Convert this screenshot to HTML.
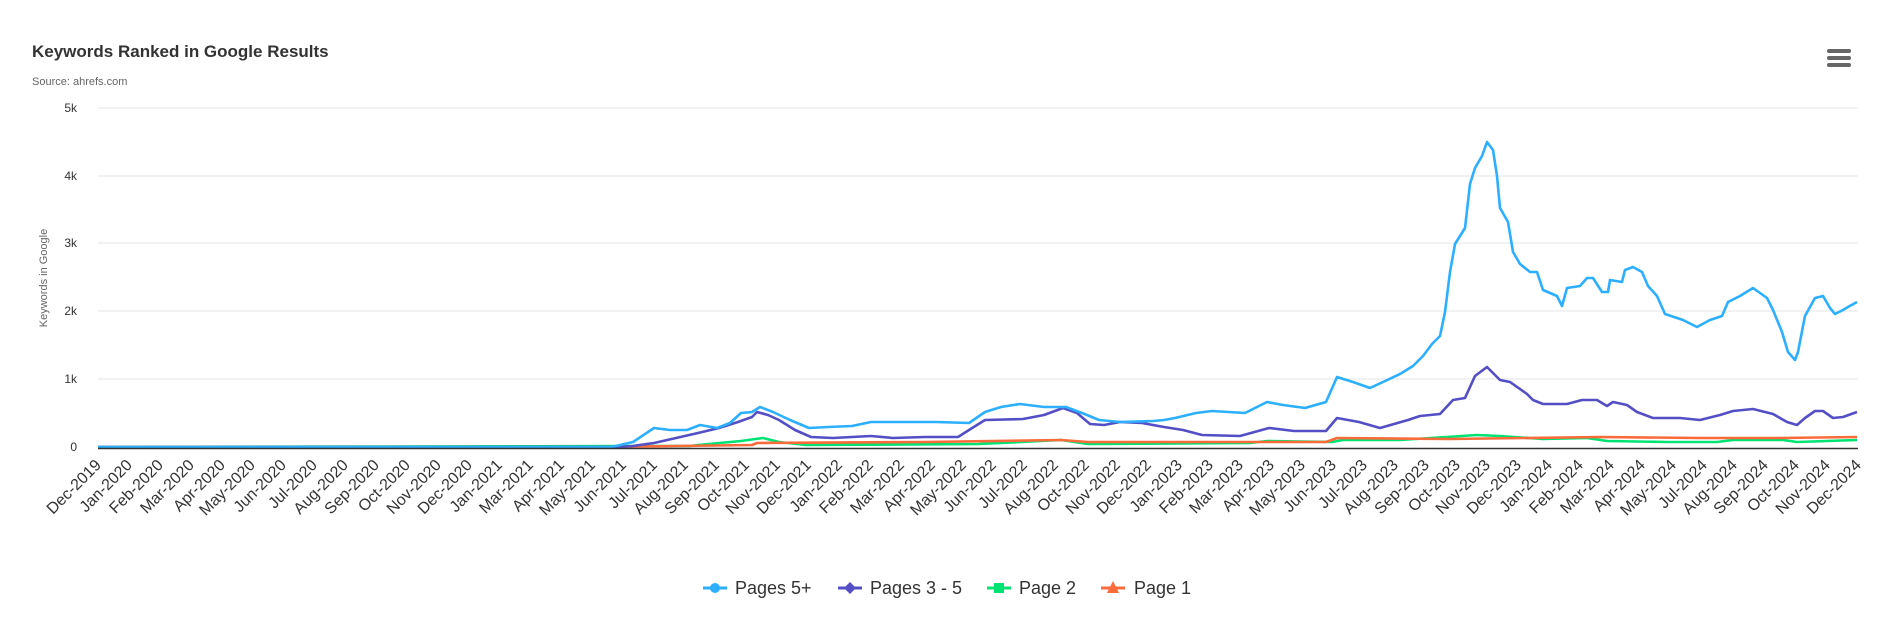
<!DOCTYPE html>
<html><head><meta charset="utf-8"><style>
html,body{margin:0;padding:0;background:#fff;}
svg{display:block;font-family:"Liberation Sans",sans-serif;}
</style></head><body>
<svg width="1890" height="628" viewBox="0 0 1890 628" xmlns="http://www.w3.org/2000/svg">
<rect width="1890" height="628" fill="#fff"/>
<text x="32" y="57" font-size="17" font-weight="bold" fill="#333">Keywords Ranked in Google Results</text>
<text x="32" y="85" font-size="11" fill="#666">Source: ahrefs.com</text>
<g fill="#666"><rect x="1827" y="49" width="24" height="4" rx="2"/><rect x="1827" y="56" width="24" height="4" rx="2"/><rect x="1827" y="63" width="24" height="4" rx="2"/></g>
<g stroke="#e6e6e6" stroke-width="1">
<line x1="98" x2="1858" y1="108" y2="108"/><line x1="98" x2="1858" y1="176" y2="176"/><line x1="98" x2="1858" y1="243" y2="243"/><line x1="98" x2="1858" y1="311" y2="311"/><line x1="98" x2="1858" y1="379" y2="379"/>
</g>
<g font-size="12" fill="#333" text-anchor="end">
<text x="77" y="112">5k</text><text x="77" y="180">4k</text><text x="77" y="247">3k</text><text x="77" y="315">2k</text><text x="77" y="383">1k</text><text x="77" y="451">0</text>
</g>
<text transform="translate(47,278) rotate(-90)" font-size="11" fill="#666" text-anchor="middle">Keywords in Google</text>
<g fill="none" stroke-width="2.6" stroke-linejoin="round">
<polyline stroke="#00e272" points="98,447 690,446 698,445 741,441 763,438 779,442 806,445 979,444 1061,440 1088,444 1250,443 1267,441 1332,442 1343,440 1400,440 1477,435 1500,436 1543,439 1587,438 1607,441 1667,442 1717,442 1733,440 1783,440 1797,442 1827,441 1857,440"/>
<polyline stroke="#fa6b3c" points="98,447 600,447 752,445 757,443 925,442 1061,440 1088,442 1326,442 1337,438 1450,439 1600,437 1700,438 1780,438 1857,437"/>
<polyline stroke="#544fc5" points="98,447 620,447 633,446 654,443 676,438 698,433 719,428 738,422 752,417 757,412 768,415 779,420 795,430 811,437 833,438 871,436 893,438 925,437 958,437 969,430 985,420 1023,419 1044,415 1063,408 1077,413 1090,424 1104,425 1120,422 1142,423 1164,427 1183,430 1202,435 1240,436 1269,428 1294,431 1326,431 1337,418 1359,422 1380,428 1408,420 1420,416 1440,414 1453,400 1465,398 1475,376 1487,367 1500,380 1510,382 1527,394 1533,400 1543,404 1567,404 1582,400 1597,400 1607,406 1613,402 1627,405 1637,412 1653,418 1680,418 1700,420 1720,415 1733,411 1753,409 1773,414 1787,422 1797,425 1805,418 1815,411 1823,411 1833,418 1843,417 1857,412"/>
<polyline stroke="#2caffe" points="98,447 610,447 616,446 633,442 654,428 670,430 687,430 700,425 717,428 730,423 741,413 752,412 760,407 773,412 790,420 809,428 828,427 852,426 871,422 904,422 936,422 969,423 985,412 1001,407 1020,404 1044,407 1066,407 1082,413 1099,420 1120,422 1153,421 1164,420 1175,418 1196,413 1212,411 1245,413 1267,402 1283,405 1305,408 1326,402 1337,377 1353,382 1370,388 1383,382 1400,374 1413,366 1423,356 1432,344 1440,336 1445,312 1450,272 1455,244 1465,228 1470,184 1475,168 1482,156 1487,142 1493,150 1497,176 1500,208 1508,222 1513,252 1520,264 1530,272 1537,272 1543,290 1557,296 1562,306 1567,288 1580,286 1587,278 1593,278 1602,292 1608,292 1610,280 1622,282 1625,270 1633,267 1642,272 1648,286 1657,296 1665,314 1677,318 1683,320 1697,327 1710,320 1722,316 1728,302 1740,296 1753,288 1767,298 1773,310 1782,332 1788,352 1795,360 1798,352 1805,316 1815,298 1823,296 1830,308 1835,314 1843,310 1848,307 1857,302"/>
</g>
<line x1="98" x2="1858" y1="448.5" y2="448.5" stroke="#333" stroke-width="1.5"/>
<g id="xl" font-size="16" fill="#333" text-anchor="end"></g>
<g font-size="18" fill="#333">
<line x1="703" x2="727" y1="588" y2="588" stroke="#2caffe" stroke-width="3"/><circle cx="715" cy="588" r="5" fill="#2caffe"/><text x="735" y="594">Pages 5+</text>
<line x1="838" x2="862" y1="588" y2="588" stroke="#544fc5" stroke-width="3"/><path d="M850 582 L856 588 L850 594 L844 588Z" fill="#544fc5"/><text x="870" y="594">Pages 3 - 5</text>
<line x1="987" x2="1011" y1="588" y2="588" stroke="#00e272" stroke-width="3"/><rect x="994" y="583" width="10" height="10" fill="#00e272"/><text x="1019" y="594">Page 2</text>
<line x1="1101" x2="1125" y1="588" y2="588" stroke="#fa6b3c" stroke-width="3"/><path d="M1113 581 L1119 593 L1107 593Z" fill="#fa6b3c"/><text x="1134" y="594">Page 1</text>
</g>
<g font-size="16" fill="#333" text-anchor="end">
<text transform="translate(102,466) rotate(-45)">Dec-2019</text>
<text transform="translate(133,466) rotate(-45)">Jan-2020</text>
<text transform="translate(164,466) rotate(-45)">Feb-2020</text>
<text transform="translate(195,466) rotate(-45)">Mar-2020</text>
<text transform="translate(226,466) rotate(-45)">Apr-2020</text>
<text transform="translate(256,466) rotate(-45)">May-2020</text>
<text transform="translate(287,466) rotate(-45)">Jun-2020</text>
<text transform="translate(318,466) rotate(-45)">Jul-2020</text>
<text transform="translate(349,466) rotate(-45)">Aug-2020</text>
<text transform="translate(380,466) rotate(-45)">Sep-2020</text>
<text transform="translate(411,466) rotate(-45)">Oct-2020</text>
<text transform="translate(442,466) rotate(-45)">Nov-2020</text>
<text transform="translate(473,466) rotate(-45)">Dec-2020</text>
<text transform="translate(503,466) rotate(-45)">Jan-2021</text>
<text transform="translate(534,466) rotate(-45)">Mar-2021</text>
<text transform="translate(565,466) rotate(-45)">Apr-2021</text>
<text transform="translate(596,466) rotate(-45)">May-2021</text>
<text transform="translate(627,466) rotate(-45)">Jun-2021</text>
<text transform="translate(658,466) rotate(-45)">Jul-2021</text>
<text transform="translate(689,466) rotate(-45)">Aug-2021</text>
<text transform="translate(720,466) rotate(-45)">Sep-2021</text>
<text transform="translate(750,466) rotate(-45)">Oct-2021</text>
<text transform="translate(781,466) rotate(-45)">Nov-2021</text>
<text transform="translate(812,466) rotate(-45)">Dec-2021</text>
<text transform="translate(843,466) rotate(-45)">Jan-2022</text>
<text transform="translate(874,466) rotate(-45)">Feb-2022</text>
<text transform="translate(905,466) rotate(-45)">Mar-2022</text>
<text transform="translate(936,466) rotate(-45)">Apr-2022</text>
<text transform="translate(967,466) rotate(-45)">May-2022</text>
<text transform="translate(997,466) rotate(-45)">Jun-2022</text>
<text transform="translate(1028,466) rotate(-45)">Jul-2022</text>
<text transform="translate(1059,466) rotate(-45)">Aug-2022</text>
<text transform="translate(1090,466) rotate(-45)">Oct-2022</text>
<text transform="translate(1121,466) rotate(-45)">Nov-2022</text>
<text transform="translate(1152,466) rotate(-45)">Dec-2022</text>
<text transform="translate(1183,466) rotate(-45)">Jan-2023</text>
<text transform="translate(1214,466) rotate(-45)">Feb-2023</text>
<text transform="translate(1244,466) rotate(-45)">Mar-2023</text>
<text transform="translate(1275,466) rotate(-45)">Apr-2023</text>
<text transform="translate(1306,466) rotate(-45)">May-2023</text>
<text transform="translate(1337,466) rotate(-45)">Jun-2023</text>
<text transform="translate(1368,466) rotate(-45)">Jul-2023</text>
<text transform="translate(1399,466) rotate(-45)">Aug-2023</text>
<text transform="translate(1430,466) rotate(-45)">Sep-2023</text>
<text transform="translate(1461,466) rotate(-45)">Oct-2023</text>
<text transform="translate(1491,466) rotate(-45)">Nov-2023</text>
<text transform="translate(1522,466) rotate(-45)">Dec-2023</text>
<text transform="translate(1553,466) rotate(-45)">Jan-2024</text>
<text transform="translate(1584,466) rotate(-45)">Feb-2024</text>
<text transform="translate(1615,466) rotate(-45)">Mar-2024</text>
<text transform="translate(1646,466) rotate(-45)">Apr-2024</text>
<text transform="translate(1677,466) rotate(-45)">May-2024</text>
<text transform="translate(1708,466) rotate(-45)">Jul-2024</text>
<text transform="translate(1738,466) rotate(-45)">Aug-2024</text>
<text transform="translate(1769,466) rotate(-45)">Sep-2024</text>
<text transform="translate(1800,466) rotate(-45)">Oct-2024</text>
<text transform="translate(1831,466) rotate(-45)">Nov-2024</text>
<text transform="translate(1862,466) rotate(-45)">Dec-2024</text>
</g>
</svg>
</body></html>
